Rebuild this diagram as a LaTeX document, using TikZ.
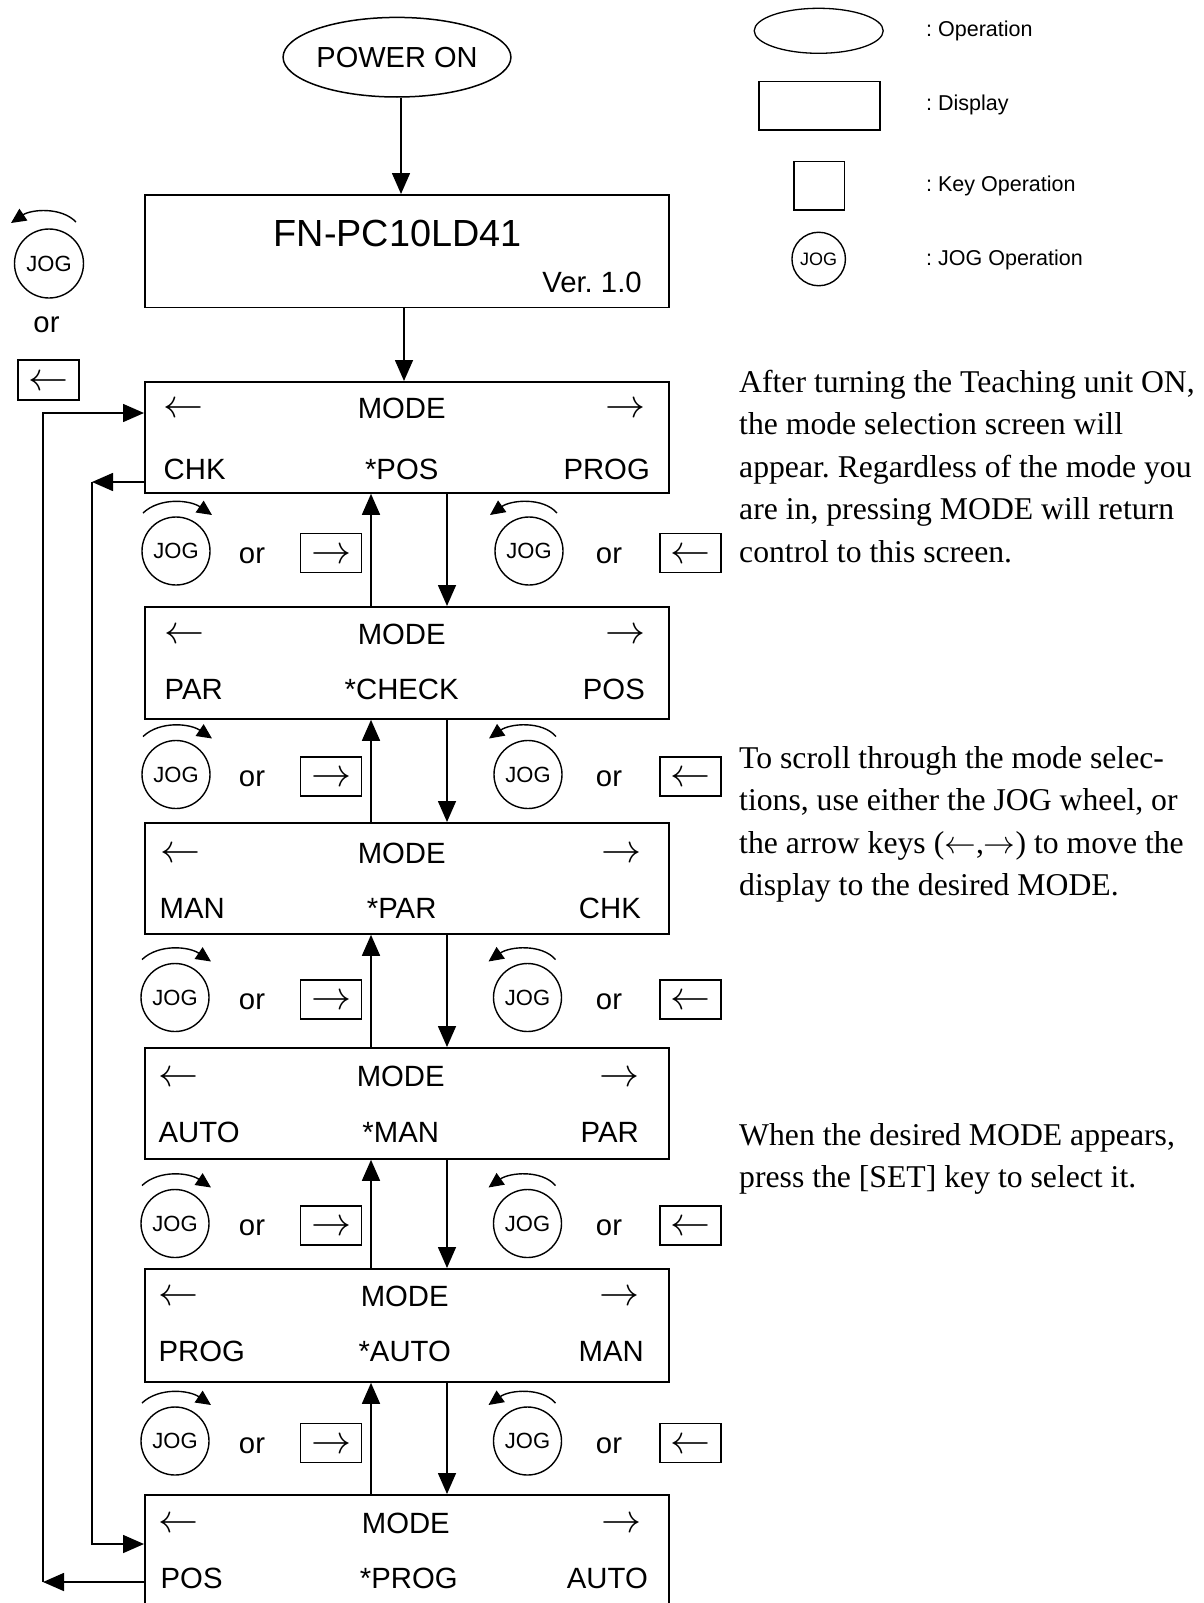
\documentclass[tikz,border=0pt]{standalone}
\usepackage{graphicx}
\usepackage{fontspec}
\setmainfont{Liberation Sans}
\newfontfamily\serifp{Liberation Serif}
\usetikzlibrary{arrows.meta,shapes.geometric,calc}
\frenchspacing

\newcommand\larr[1]{\scalebox{#1}{\fontsize{10}{12}\selectfont$\leftarrow$}}
\newcommand\rarr[1]{\scalebox{#1}{\fontsize{10}{12}\selectfont$\rightarrow$}}

\tikzset{
  conn/.style={line width=1.6pt,-{Triangle[length=21pt,width=18pt]}},
  disp/.style={draw,line width=1.8pt,inner sep=0pt,anchor=north west,minimum width=524.4pt},
  keyb/.style={draw,line width=1.2pt,inner sep=0pt,minimum width=61pt,minimum height=39pt},
  jog/.style={draw,circle,line width=1.4pt,minimum size=68pt,inner sep=0pt,font=\fontsize{22}{22}\selectfont},
  rot/.style={line width=1.4pt,-{Triangle[length=15pt,width=14pt]}},
  lbl/.style={font=\fontsize{29.3}{30}\selectfont,inner sep=0pt},
  arr/.style={inner sep=0pt,anchor=base},
  para/.style={font=\serifp\fontsize{31.7}{42.7}\selectfont,inner sep=0pt,anchor=base west},
  leg/.style={font=\fontsize{21.5}{22}\selectfont,inner sep=0pt,anchor=base west},
}
\newcommand\cwarc[1]{\draw[rot] ($(#1)+(-33,-38)$) .. controls ($(#1)+(-16,-54)$) and ($(#1)+(14,-51)$) .. ($(#1)+(36,-36)$);}
\newcommand\ccwarc[1]{\draw[rot] ($(#1)+(28,-38)$) .. controls ($(#1)+(14,-54)$) and ($(#1)+(-18,-51)$) .. ($(#1)+(-39,-36)$);}

\begin{document}
\frenchspacing
\begin{tikzpicture}[x=1pt,y=-1pt]
\useasboundingbox (0,0) rectangle (1204,1603);
\clip (0,0) rectangle (1204,1603);
\fill[white] (0,0) rectangle (1204,1603);

% ---------- legend ----------
\node[ellipse,draw,line width=1.3pt,minimum width=129pt,minimum height=45pt,inner sep=0pt] (lgop) at (818.7,30.8) {};
\node[leg] (lgopt) at (926,36.7) {: Operation};
\node[draw,line width=1.6pt,minimum width=120.7pt,minimum height=48.6pt,inner sep=0pt,anchor=north west] (lgdisp) at (758.3,80.7) {};
\node[leg] (lgdispt) at (926,110) {: Display};
\node[keyb,minimum width=50.7pt,minimum height=48.3pt,anchor=north west] (lgkey) at (793.3,161) {};
\node[leg] (lgkeyt) at (926,191.7) {: Key Operation};
\node[jog,minimum size=53.5pt,font=\fontsize{18}{18}\selectfont] (lgjog) at (818.7,259) {JOG};
\node[leg] (lgjogt) at (926,265) {: JOG Operation};

% ---------- top ----------
\node[ellipse,draw,line width=1.5pt,minimum width=226pt,minimum height=79.6pt,inner sep=0pt,font=\fontsize{29}{29}\selectfont] (pw) at (397,57.2) {POWER ON};
\node[disp,minimum height=112.6pt] (fn) at (144,194) {};
\node[font=\fontsize{37.8}{38}\selectfont,anchor=base,inner sep=0pt] (fnt) at (397.6,246.5) {FN-PC10LD41};
\node[lbl,anchor=base east] (ver) at (641.9,292.6) {Ver. 1.0};

\coordinate (ax1) at (401,0);
\coordinate (ax2) at (404,0);

% ---------- mode boxes ----------
\node[disp,minimum height=111pt] (b1) at (144,381) {};
\node[disp,minimum height=112pt] (b2) at (144,606) {};
\node[disp,minimum height=111pt] (b3) at (144,822) {};
\node[disp,minimum height=111pt] (b4) at (144,1047) {};
\node[disp,minimum height=113pt] (b5) at (144,1268) {};
\node[disp,minimum height=140pt] (b6) at (144,1494) {};

\draw[conn] (pw.south -| ax1) -- (fn.north -| ax1);
\draw[conn] (fn.south -| ax2) -- (b1.north -| ax2);

% box 1
\node[arr,anchor=base west] (b1l) at (163,417.5) {\larr{4}};
\node[lbl,anchor=base] (b1m) at (401.7,418.3) {MODE};
\node[arr,anchor=base east] (b1r) at (646,417.5) {\rarr{4}};
\node[lbl,anchor=base west] (b1a) at (163.5,479.5) {CHK};
\node[lbl,anchor=base] (b1b) at (401.7,479.5) {*POS};
\node[lbl,anchor=base east] (b1c) at (650,479.5) {PROG};
% box 2
\node[arr,anchor=base west] (b2l) at (164,643.4) {\larr{4}};
\node[lbl,anchor=base] (b2m) at (401.7,644.2) {MODE};
\node[arr,anchor=base east] (b2r) at (646,643.4) {\rarr{4}};
\node[lbl,anchor=base west] (b2a) at (164.5,699.4) {PAR};
\node[lbl,anchor=base] (b2b) at (401.7,699.4) {*CHECK};
\node[lbl,anchor=base east] (b2c) at (645,699.4) {POS};
% box 3
\node[arr,anchor=base west] (b3l) at (160.5,862.2) {\larr{4}};
\node[lbl,anchor=base] (b3m) at (401.7,863) {MODE};
\node[arr,anchor=base east] (b3r) at (642,862.2) {\rarr{4}};
\node[lbl,anchor=base west] (b3a) at (159.5,918) {MAN};
\node[lbl,anchor=base] (b3b) at (401.7,918) {*PAR};
\node[lbl,anchor=base east] (b3c) at (641,918) {CHK};
% box 4
\node[arr,anchor=base west] (b4l) at (158.5,1086) {\larr{4}};
\node[lbl,anchor=base] (b4m) at (400.7,1086.8) {MODE};
\node[arr,anchor=base east] (b4r) at (640,1086) {\rarr{4}};
\node[lbl,anchor=base west] (b4a) at (158.5,1142) {AUTO};
\node[lbl,anchor=base] (b4b) at (400.7,1142) {*MAN};
\node[lbl,anchor=base east] (b4c) at (639,1142) {PAR};
% box 5
\node[arr,anchor=base west] (b5l) at (158.5,1305.7) {\larr{4}};
\node[lbl,anchor=base] (b5m) at (404.7,1306.5) {MODE};
\node[arr,anchor=base east] (b5r) at (640,1305.7) {\rarr{4}};
\node[lbl,anchor=base west] (b5a) at (158.5,1361.7) {PROG};
\node[lbl,anchor=base] (b5b) at (404.7,1361.7) {*AUTO};
\node[lbl,anchor=base east] (b5c) at (644,1361.7) {MAN};
% box 6
\node[arr,anchor=base west] (b6l) at (158.5,1532.7) {\larr{4}};
\node[lbl,anchor=base] (b6m) at (405.8,1533.5) {MODE};
\node[arr,anchor=base east] (b6r) at (642,1532.7) {\rarr{4}};
\node[lbl,anchor=base west] (b6a) at (160.5,1588) {POS};
\node[lbl,anchor=base] (b6b) at (408.8,1588) {*PROG};
\node[lbl,anchor=base east] (b6c) at (648,1588) {AUTO};

% ---------- up / down connectors ----------
\coordinate (upx) at (371,0);
\coordinate (dnx) at (447,0);
\foreach \a/\b in {b1/b2,b2/b3,b3/b4,b4/b5,b5/b6}{
  \draw[conn] (\b.north -| upx) -- (\a.south -| upx);
  \draw[conn] (\a.south -| dnx) -- (\b.north -| dnx);
}

% ---------- jog / key rows ----------
\foreach \i/\cy/\lx/\rx in {1/551/176/529, 2/774.5/176/528, 3/997.5/175/527.5, 4/1223.5/175/527.5, 5/1441/175/527.5}{
  \node[jog] (jl\i) at (\lx,\cy) {JOG};
  \node[lbl] (ol\i) at (252,\cy+4.5) {or};
  \node[keyb] (kr\i) at (331.3,\cy+2) {};
  \node[arr] (kra\i) at (331.3,\cy+12) {\rarr{4}};
  \node[jog] (jr\i) at (\rx,\cy) {JOG};
  \node[lbl] (or\i) at (609,\cy+4.5) {or};
  \node[keyb] (kl\i) at (690.5,\cy+2) {};
  \node[arr] (kla\i) at (690.5,\cy+12) {\larr{4}};
  \cwarc{jl\i}
  \ccwarc{jr\i}
}

% ---------- top-left hint ----------
\node[jog,minimum size=69pt] (jt) at (49,263.5) {JOG};
\draw[rot] ($(jt)+(27,-41.5)$) .. controls ($(jt)+(12,-57)$) and ($(jt)+(-18,-54)$) .. ($(jt)+(-38,-40.5)$);
\node[lbl] (ort) at (46.5,325) {or};
\node[keyb,minimum width=61pt,minimum height=40pt] (kt) at (48.5,380) {};
\node[arr] (kta) at (48.5,390) {\larr{4}};

% ---------- feedback loops ----------
\coordinate (ol) at (43,0);
\coordinate (il) at (92,0);
\coordinate (oy1) at (0,413);
\coordinate (oy6) at (0,1582);
\coordinate (iy1) at (0,482);
\coordinate (iy6) at (0,1544);
\draw[conn] (b6.west |- oy6) -- (ol |- oy6);
\draw[conn] (ol |- oy6) -- (ol |- oy1) -- (b1.west |- oy1);
\draw[conn] (b1.west |- iy1) -- (il |- iy1);
\draw[conn] (il |- iy1) -- (il |- iy6) -- (b6.west |- iy6);

% ---------- explanatory text ----------
\node[para] (p1a) at (739,392) {After turning the Teaching unit ON,};
\node[para] (p1b) at (739,434.5) {the mode selection screen will};
\node[para] (p1c) at (739,477) {appear. Regardless of the mode you};
\node[para] (p1d) at (739,519.5) {are in, pressing MODE will return};
\node[para] (p1e) at (739,562) {control to this screen.};
\node[para] (p2a) at (739,768) {To scroll through the mode selec-};
\node[para] (p2b) at (739,810.5) {tions, use either the JOG wheel, or};
\node[para] (p2c) at (739,853) {the arrow keys (\larr{3.17},\rarr{3.17}) to move the};
\node[para] (p2d) at (739,895.5) {display to the desired MODE.};
\node[para] (p3a) at (739,1145) {When the desired MODE appears,};
\node[para] (p3b) at (739,1187.5) {press the [SET] key to select it.};
\end{tikzpicture}
\end{document}
